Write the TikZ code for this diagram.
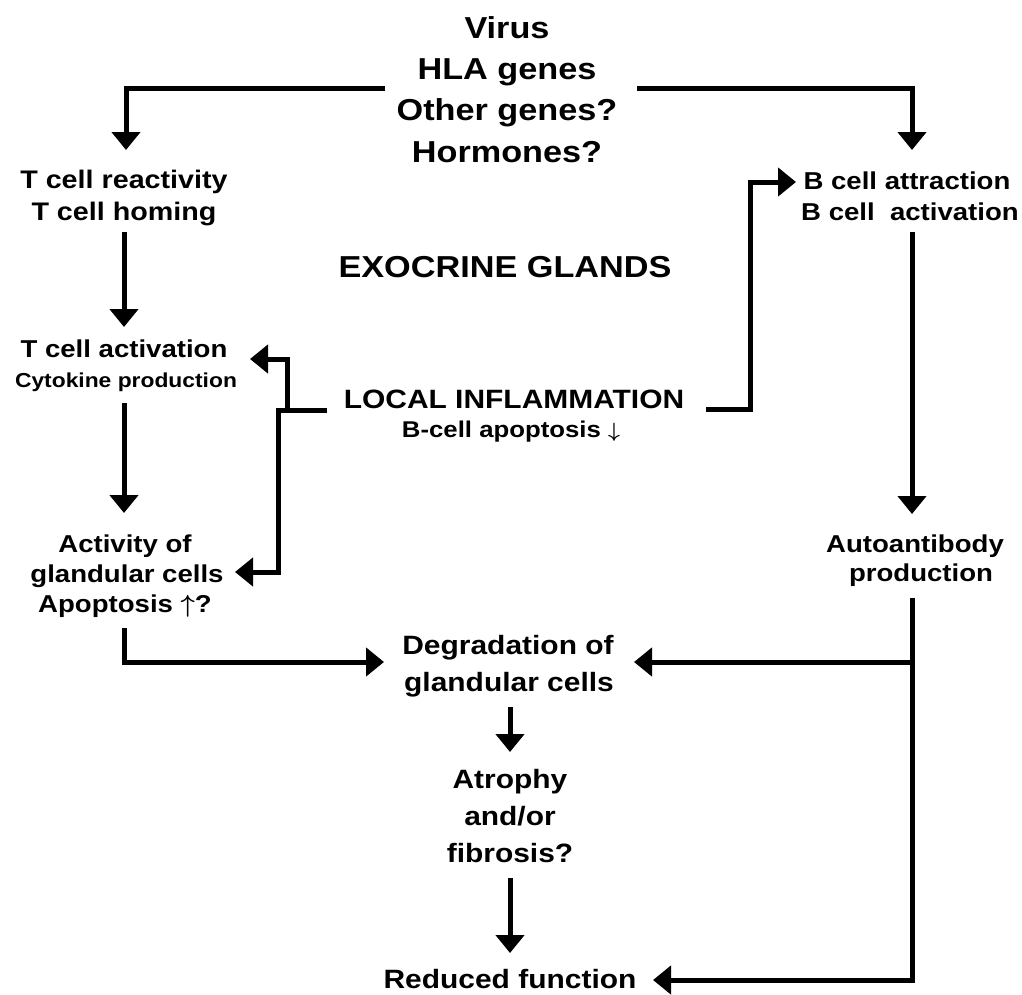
\documentclass[tikz,border=0pt]{standalone}
\usepackage{fontspec}
\setmainfont{Liberation Sans}[FakeStretch=1.13]
\usetikzlibrary{arrows.meta}
\newcommand{\upar}{\ensuremath{\boldsymbol{\uparrow}}}
\newcommand{\dnar}{\ensuremath{\boldsymbol{\downarrow}}}
\usepackage{amsmath}
\begin{document}
\begin{tikzpicture}[x=1pt,y=-1pt,
  lbl/.style={anchor=base,inner sep=0pt,font=\bfseries},
  big/.style={lbl,font=\bfseries\fontsize{30.3}{36}\selectfont},
  mid/.style={lbl,font=\bfseries\fontsize{26.5}{32}\selectfont},
  side/.style={lbl,font=\bfseries\fontsize{24.4}{29}\selectfont},
  small/.style={lbl,font=\bfseries\fontsize{20.2}{24}\selectfont},
  conn/.style={line width=5pt,line join=miter},
  arr/.style={conn,-{Triangle[width=28pt,length=18pt]}}]
\useasboundingbox (0,0) rectangle (1022,994);
% top block
\node[big] (virus) at (507,38) {Virus};
\node[big] (hla) at (507,79) {HLA genes};
\node[big] (other) at (507,120) {Other genes?};
\node[big] (horm) at (507,162) {Hormones?};
% centre labels
\node[big] (exo) at (505,277) {EXOCRINE GLANDS};
\node[mid] (local) at (514,408) {LOCAL INFLAMMATION};
\node[lbl,font=\bfseries\fontsize{22.8}{27}\selectfont] (bapo) at (511,437) {B-cell apoptosis \dnar};
% left column
\node[lbl,font=\bfseries\fontsize{25.4}{30}\selectfont] (tcr) at (124,188) {T cell reactivity};
\node[lbl,font=\bfseries\fontsize{25.4}{30}\selectfont] (tch) at (124,220) {T cell homing};
\node[side] (tca) at (124,357) {T cell activation};
\node[small] (cyto) at (126,387) {Cytokine production};
\node[side] (act) at (125,552) {Activity of};
\node[side] (gland) at (127,582) {glandular cells};
\node[side] (apo) at (125,612) {Apoptosis \upar?};
% right column
\node[side] (bca) at (907,189) {B cell attraction};
\node[side] (bcv) at (910,220) {B cell\ \ activation};
\node[side] (auto) at (915,552) {Autoantibody};
\node[side] (prod) at (921,581) {production};
% centre bottom
\node[mid] (deg) at (508,654) {Degradation of};
\node[mid] (deg2) at (509,691) {glandular cells};
\node[mid] (atr) at (510,788) {Atrophy};
\node[mid] (andor) at (510,825) {and/or};
\node[mid] (fib) at (510,862) {fibrosis?};
\node[mid] (red) at (510,988) {Reduced function};
% top connectors
\coordinate (tl) at (385,88);
\coordinate (tr) at (637,88);
\coordinate (tlTip) at (126,150);
\coordinate (trTip) at (912,150);
\draw[arr] (tl) -| (tlTip);
\draw[arr] (tr) -| (trTip);
% left column arrows
\coordinate (a1s) at (124,232); \coordinate (a1e) at (124,327);
\draw[arr] (a1s) -- (a1e);
\coordinate (a2s) at (124,403); \coordinate (a2e) at (124,513);
\draw[arr] (a2s) -- (a2e);
% local inflammation left branch
\coordinate (liL) at (327,410);
\coordinate (liJoin) at (276,410);
\coordinate (liUp) at (287,410);
\coordinate (liTop) at (287,359);
\coordinate (tcaTip) at (250,359);
\draw[conn] (liL) -- (liJoin);
\draw[arr] (liUp) -- (liTop) -- (tcaTip);
\coordinate (liLow) at (278,410);
\coordinate (actTip) at (235,572);
\draw[arr] (liLow) |- (actTip);
% local inflammation right branch
\coordinate (liR) at (706,409);
\coordinate (bcaTip) at (796,182);
\draw[arr] (liR) -- (750,409) |- (bcaTip);
% right column
\coordinate (b1s) at (912,232); \coordinate (b1e) at (912,514);
\draw[arr] (b1s) -- (b1e);
\coordinate (ap) at (912,598);
\coordinate (redTip) at (653,980);
\coordinate (branch) at (912,662);
\coordinate (degTipR) at (634,662);
\draw[arr] (ap) |- (redTip);
\draw[arr] (branch) -- (degTipR);
% left to degradation
\coordinate (apoB) at (124,628);
\coordinate (degTipL) at (384,662);
\draw[arr] (apoB) |- (degTipL);
% centre column
\coordinate (c1s) at (510,707); \coordinate (c1e) at (510,752);
\draw[arr] (c1s) -- (c1e);
\coordinate (c2s) at (510,878); \coordinate (c2e) at (510,953);
\draw[arr] (c2s) -- (c2e);
\end{tikzpicture}
\end{document}
